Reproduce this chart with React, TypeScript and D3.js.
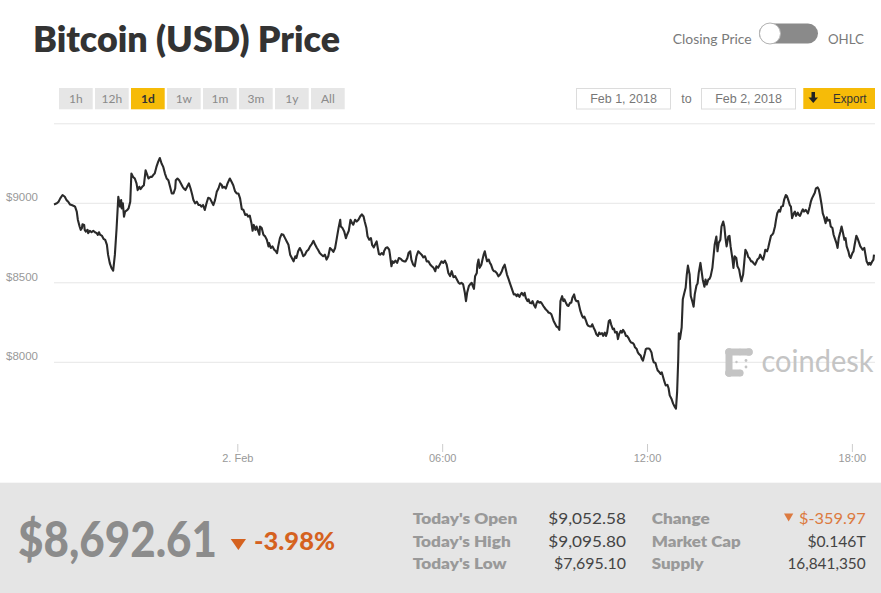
import React from 'react';
import * as d3 from 'd3';

// ---- data (minutes after Feb 1 2018 18:37, price USD) ----
const eveningFeb1: [number, number][] = [[0,8993],[5,9000],[8,9010],[11,9031],[15,9052],[19,9041],[22,9020],[25,9010],[28,8993],[31,8989],[35,8983],[37,8979],[40,8948],[42,8895],[45,8854],[47,8833],[49,8843],[50,8868],[53,8864],[54,8833],[56,8822],[59,8833],[60,8812],[63,8827],[66,8818],[69,8827],[72,8818],[75,8812],[77,8802],[79,8818],[81,8802],[84,8797],[87,8777],[90,8770],[93,8739],[95,8677],[98,8624],[101,8593],[104,8577],[107,8677],[110,8843],[113,9041],[116,8979],[118,9020],[119,8968],[121,9000],[123,8916],[125,8948],[129,8958],[131,8968],[134,9010],[136,9187],[139,9166],[142,9156],[145,9125],[147,9083],[150,9104],[152,9089],[155,9104],[158,9114],[161,9208],[164,9177],[166,9156],[169,9166],[172,9166],[175,9181],[177,9187],[180,9229],[183,9260],[186,9285],[189,9250],[192,9229],[195,9187],[198,9156],[201,9145],[204,9104],[207,9062],[210,9062],[213,9093],[214,9145],[217,9156],[220,9145],[223,9125],[226,9104],[228,9093],[231,9083],[234,9104],[237,9125],[240,9093],[243,9052],[245,9020],[248,9000],[251,9010],[254,8989],[257,8989],[259,8979],[262,8989],[265,8958],[268,9000],[271,9035],[274,9031],[277,9010],[280,8989],[283,9020],[286,9072],[289,9093],[292,9125],[295,9114],[296,9098],[299,9104],[302,9093],[305,9125],[309,9156],[312,9135],[315,9114],[318,9077],[321,9062],[324,9062],[327,9031],[330,8964],[333,8958],[336,8927],[339,8931],[341,8916],[344,8923],[347,8875],[349,8827],[351,8864],[354,8833],[356,8854],[359,8822],[361,8802]];
const nightFeb2: [number, number][] = [[362,8854],[365,8844],[368,8802],[371,8792],[374,8771],[377,8729],[378,8750],[381,8719],[384,8729],[387,8708],[390,8698],[392,8687],[394,8729],[397,8781],[400,8806],[403,8802],[406,8781],[409,8760],[412,8739],[415,8677],[418,8656],[421,8635],[424,8667],[426,8656],[429,8698],[432,8719],[435,8698],[438,8667],[441,8677],[444,8698],[447,8708],[450,8729],[453,8744],[456,8764],[459,8739],[462,8719],[464,8708],[467,8687],[470,8677],[473,8667],[476,8677],[479,8646],[482,8667],[485,8719],[488,8708],[491,8694],[494,8719],[497,8781],[500,8844],[503,8896],[504,8854],[507,8844],[510,8823],[513,8781],[515,8802],[518,8827],[521,8896],[524,8875],[526,8865],[529,8896],[532,8885],[535,8896],[538,8917],[541,8931],[544,8917],[546,8885],[549,8844],[551,8792],[554,8771],[557,8781],[559,8739],[562,8723],[564,8739],[567,8760],[569,8719],[571,8681],[573,8677],[576,8687],[579,8677],[580,8698],[583,8719],[586,8723],[589,8708],[590,8687],[593,8604],[595,8635],[597,8625],[600,8640],[603,8625],[606,8656],[609,8652],[612,8640],[615,8635],[618,8635],[621,8656],[623,8687],[626,8698],[628,8646],[631,8615],[634,8604],[637,8667],[640,8698],[643,8687],[646,8677],[649,8660],[652,8667],[655,8635],[658,8635],[661,8615],[664,8604],[667,8594],[670,8573],[672,8604],[675,8594],[678,8615],[681,8635],[684,8625],[687,8640],[690,8615],[693,8562],[696,8542],[699,8573],[702,8535],[705,8542],[708,8521],[711,8500],[713,8494],[716,8500],[719,8490]];
const morningFeb2: [number, number][] = [[722,8437],[724,8385],[726,8437],[729,8479],[731,8489],[734,8500],[736,8479],[738,8462],[740,8541],[743,8562],[744,8614],[746,8646],[748,8594],[751,8614],[753,8646],[755,8677],[757,8698],[759,8666],[761,8635],[764,8646],[766,8625],[768,8614],[771,8583],[773,8573],[775,8573],[778,8562],[781,8541],[784,8552],[787,8573],[789,8594],[792,8614],[794,8583],[796,8552],[799,8521],[801,8500],[803,8479],[806,8448],[808,8427],[811,8427],[813,8416],[815,8427],[818,8412],[820,8427],[822,8437],[825,8421],[827,8437],[829,8406],[832,8385],[834,8396],[836,8375],[839,8371],[841,8385],[843,8364],[846,8344],[848,8371],[850,8385],[853,8375],[855,8379],[857,8371],[860,8354],[862,8344],[864,8333],[867,8323],[869,8312],[871,8312],[874,8302],[876,8281],[878,8260],[881,8239],[883,8225],[886,8219],[888,8204],[890,8385],[893,8416],[895,8385],[897,8396],[900,8371],[902,8358],[904,8354],[907,8375],[909,8375],[911,8406],[914,8427],[916,8396],[918,8385],[921,8385],[923,8354],[925,8323],[928,8292],[930,8281],[932,8287],[935,8260],[937,8239],[939,8229],[942,8225],[944,8225],[946,8239],[949,8212],[951,8198],[953,8177],[956,8166],[958,8187],[960,8177],[963,8183],[965,8166],[968,8187],[970,8166],[972,8187],[975,8260],[977,8266],[979,8239],[982,8208],[984,8212],[986,8187],[989,8191],[991,8146],[993,8177],[996,8198],[998,8187],[1000,8204],[1003,8187],[1005,8166],[1007,8166],[1010,8150],[1012,8135],[1014,8125],[1017,8121],[1019,8114],[1021,8094],[1024,8083],[1026,8062],[1028,8052],[1031,8042],[1033,8021],[1035,8010],[1038,8052],[1040,8083],[1042,8087],[1045,8087],[1047,8083],[1050,8062],[1052,8021],[1054,8000],[1057,7996],[1059,7969],[1061,7948],[1064,7937],[1066,7927],[1068,7937],[1071,7900],[1073,7875],[1075,7854],[1078,7858],[1080,7837]];
const afternoonFeb2: [number, number][] = [[1082,7792],[1085,7771],[1088,7740],[1091,7719],[1093,7708],[1095,7812],[1097,8021],[1098,8183],[1100,8146],[1103,8219],[1105,8396],[1107,8427],[1110,8469],[1112,8552],[1114,8608],[1117,8552],[1119,8417],[1122,8379],[1124,8350],[1126,8427],[1129,8483],[1131,8496],[1133,8562],[1136,8625],[1138,8573],[1140,8521],[1143,8475],[1145,8521],[1147,8489],[1150,8521],[1152,8525],[1154,8542],[1157,8594],[1159,8667],[1161,8739],[1164,8791],[1166,8698],[1168,8750],[1171,8771],[1173,8854],[1176,8885],[1178,8854],[1180,8781],[1182,8729],[1185,8791],[1187,8796],[1189,8729],[1192,8656],[1194,8594],[1196,8667],[1199,8656],[1201,8604],[1204,8583],[1206,8542],[1208,8510],[1211,8552],[1213,8629],[1215,8708],[1218,8687],[1220,8662],[1222,8656],[1225,8635],[1227,8635],[1229,8625],[1232,8614],[1234,8629],[1236,8646],[1239,8656],[1241,8677],[1243,8662],[1246,8646],[1248,8671],[1250,8708],[1253,8698],[1255,8719],[1257,8750],[1260,8796],[1262,8802],[1264,8812],[1267,8854],[1269,8900],[1271,8937],[1274,8958],[1276,8948],[1278,8979],[1281,8983],[1283,9021],[1286,9052],[1288,9046],[1290,9025],[1293,8989],[1295,8979],[1297,8906],[1300,8937],[1302,8948],[1304,8921],[1307,8941],[1309,8927],[1311,8921],[1314,8948],[1316,8962],[1318,8948],[1321,8958],[1323,8948],[1325,8937],[1328,8979],[1330,9010],[1332,9031],[1335,9052],[1337,9066],[1339,9094],[1342,9100],[1344,9087],[1346,9052],[1349,8989],[1351,8937],[1353,8916],[1356,8875],[1358,8912],[1360,8891],[1363,8896],[1365,8854],[1368,8844],[1370,8802],[1372,8781],[1375,8750],[1377,8719],[1379,8781],[1382,8823],[1384,8854],[1386,8823],[1389,8771],[1391,8781],[1393,8729],[1396,8698],[1398,8667],[1400,8656],[1403,8687],[1405,8698],[1407,8739],[1410,8796],[1412,8781],[1414,8760],[1417,8729],[1419,8719],[1421,8708],[1424,8719],[1426,8677],[1428,8635],[1431,8614],[1433,8625],[1435,8614],[1438,8635],[1440,8646],[1441,8677]];

const yTickValues = [8000, 8500, 9000];
const yTopLine = 9500;
const xTickDates = [new Date(2018, 1, 2, 0, 0), new Date(2018, 1, 2, 6, 0), new Date(2018, 1, 2, 12, 0), new Date(2018, 1, 2, 18, 0)];
const xTickLabels = ['2. Feb', '06:00', '12:00', '18:00'];
const rangeButtons = ['1h', '12h', '1d', '1w', '1m', '3m', '1y', 'All'];
const activeRange = '1d';
const fromDate = 'Feb 1, 2018';
const toDate = 'Feb 2, 2018';
const currentPrice = '$8,692.61';
const changePct = '-3.98%';
const leftStatLabels = ["Today's Open", "Today's High", "Today's Low"];
const leftStatValues = ['$9,052.58', '$9,095.80', '$7,695.10'];
const rightStatLabels = ['Change', 'Market Cap', 'Supply'];
const rightStatValues = ['$-359.97', '$0.146T', '16,841,350'];

const START = new Date(2018, 1, 1, 18, 37);
const TOTAL_MIN = 1441;

const W = 881, H = 593;
const UI = 'Lato, "Open Sans", sans-serif';
const AX = '"Liberation Sans", Arial, sans-serif';

export default function App() {
  const series = [...eveningFeb1, ...nightFeb2, ...morningFeb2, ...afternoonFeb2].map(([m, p]) => ({
    t: new Date(START.getTime() + m * 60000),
    p,
  }));
  const x = d3.scaleTime()
    .domain([START, new Date(START.getTime() + TOTAL_MIN * 60000)])
    .range([54, 874]);
  const y = d3.scaleLinear().domain([8000, 9000]).range([362.3, 203.3]);
  const line = d3.line<{ t: Date; p: number }>().x(d => x(d.t)).y(d => y(d.p));

  const btnW = 33.7, btnStep = 36, btnX0 = 59;
  const leftLabelW = [104.6, 98, 94];
  const leftValW = [77.7, 77.7, 72];
  const rightLabelW = [58, 89, 52];
  const rightValW = [66.7, 58.3, 78.3];
  const rowY = [523.5, 546.5, 569];

  return (
    <div style={{ position: 'absolute', left: 0, top: 0, width: W, height: H, background: '#fff' }}>
      <svg width={W} height={H} style={{ display: 'block' }}>
        <rect x={0} y={0} width={W} height={H} fill="#fff" />
        {/* Title */}
        <text x={33} y={52} fontFamily={UI} fontWeight={800} fontSize={35} fill="#333" textLength={307} lengthAdjust="spacingAndGlyphs">Bitcoin (USD) Price</text>

        {/* toggle */}
        <text x={672.7} y={44} fontFamily={UI} fontSize={13.5} fill="#7a7a7a" textLength={79} lengthAdjust="spacingAndGlyphs">Closing Price</text>
        <rect x={759} y={23.5} width={59} height={20} rx={10} fill="#8a8a8a" />
        <circle cx={770} cy={33.5} r={10.5} fill="#fff" stroke="#b5b5b5" strokeWidth={1} />
        <text x={828} y={44} fontFamily={UI} fontSize={13.5} fill="#7a7a7a" textLength={36} lengthAdjust="spacingAndGlyphs">OHLC</text>

        {/* range buttons */}
        {rangeButtons.map((b, i) => {
          const bx = btnX0 + i * btnStep;
          const active = b === activeRange;
          return (
            <g key={b}>
              <rect x={bx} y={88} width={btnW} height={21.3} fill={active ? '#f6bb08' : '#e6e6e6'} />
              <text x={bx + btnW / 2} y={103} textAnchor="middle" fontFamily={UI} fontSize={12} fontWeight={active ? 700 : 400} fill={active ? '#333' : '#8a8a8a'}>{b}</text>
            </g>
          );
        })}

        {/* date range */}
        <rect x={576.5} y={88.5} width={94} height={20.5} fill="#fff" stroke="#dcdcdc" />
        <text x={623.5} y={103} textAnchor="middle" fontFamily={AX} fontSize={12.5} fill="#777">{fromDate}</text>
        <text x={686.5} y={103} textAnchor="middle" fontFamily={AX} fontSize={12.5} fill="#777">to</text>
        <rect x={701.5} y={88.5} width={94} height={20.5} fill="#fff" stroke="#dcdcdc" />
        <text x={748.5} y={103} textAnchor="middle" fontFamily={AX} fontSize={12.5} fill="#777">{toDate}</text>
        <rect x={803.3} y={88} width={71.7} height={21} fill="#f6bb08" />
        <rect x={811.5} y={92} width={3.5} height={6} fill="#222" />
        <path d="M808.5,97.5 L818,97.5 L813.25,103 Z" fill="#222" />
        <text x={833} y={102.5} fontFamily={AX} fontSize={12} fill="#333" textLength={33.5} lengthAdjust="spacingAndGlyphs">Export</text>

        {/* grid */}
        <line x1={54} x2={875} y1={y(yTopLine)} y2={y(yTopLine)} stroke="#e6e6e6" strokeWidth={1} />
        {yTickValues.map(v => (
          <g key={v}>
            <line x1={54} x2={875} y1={y(v)} y2={y(v)} stroke="#e6e6e6" strokeWidth={1} />
            <text x={6} y={y(v) - 2} fontFamily={AX} fontSize={11} fill="#999" textLength={32} lengthAdjust="spacingAndGlyphs">${v}</text>
          </g>
        ))}

        {/* watermark */}
        <g fill="#c4c4c4">
          <rect x={725.5} y={348.5} width={27} height={7} rx={3.5} />
          <circle cx={729} cy={352} r={3.8} />
          <circle cx={740} cy={352} r={3.3} />
          <circle cx={749} cy={352} r={3.8} />
          <rect x={725.5} y={348.5} width={7} height={28} rx={3.5} />
          <circle cx={729} cy={373} r={3.8} />
          <rect x={725.5} y={369.5} width={18} height={7} rx={3.5} />
          <circle cx={740} cy={373} r={3.3} />
          <circle cx={746} cy={360.5} r={1.4} />
          <circle cx={746} cy={367} r={1.4} />
          <circle cx={736.5} cy={362} r={1.2} />
        </g>
        <text x={761.5} y={372} fontFamily={UI} fontSize={31} fill="#c4c4c4" textLength={112} lengthAdjust="spacingAndGlyphs">coindesk</text>

        {/* price line */}
        <path d={line(series) || ''} fill="none" stroke="#2a2a2a" strokeWidth={2.1} strokeLinejoin="round" />

        {/* x axis ticks */}
        {xTickDates.map((d, i) => (
          <g key={i}>
            <line x1={x(d)} x2={x(d)} y1={444} y2={452} stroke="#ccc" strokeWidth={1} />
            <text x={x(d)} y={461.5} textAnchor="middle" fontFamily={AX} fontSize={11} fill="#999">{xTickLabels[i]}</text>
          </g>
        ))}

        {/* footer */}
        <rect x={0} y={482.7} width={W} height={H - 482.7} fill="#e5e5e5" />
        <text x={18} y={557.3} fontFamily={UI} fontWeight={900} fontSize={49} fill="#8c8c8c" textLength={199} lengthAdjust="spacingAndGlyphs">{currentPrice}</text>
        <path d="M230.7,539 L246,539 L238.35,550 Z" fill="#d5621f" />
        <text x={254} y={550} fontFamily={UI} fontWeight={900} fontSize={24} fill="#d5621f" textLength={81} lengthAdjust="spacingAndGlyphs">{changePct}</text>

        {leftStatLabels.map((l, i) => (
          <g key={l}>
            <text x={412.7} y={rowY[i]} fontFamily={UI} fontWeight={800} fontSize={15} fill="#999" textLength={leftLabelW[i]} lengthAdjust="spacingAndGlyphs">{l}</text>
            <text x={626} y={rowY[i]} textAnchor="end" fontFamily={UI} fontSize={15} fill="#444" textLength={leftValW[i]} lengthAdjust="spacingAndGlyphs">{leftStatValues[i]}</text>
          </g>
        ))}
        {rightStatLabels.map((l, i) => (
          <g key={l}>
            <text x={651.7} y={rowY[i]} fontFamily={UI} fontWeight={800} fontSize={15} fill="#999" textLength={rightLabelW[i]} lengthAdjust="spacingAndGlyphs">{l}</text>
            <text x={865.7} y={rowY[i]} textAnchor="end" fontFamily={UI} fontSize={15} fill={i === 0 ? '#dc7a40' : '#444'} textLength={rightValW[i]} lengthAdjust="spacingAndGlyphs">{rightStatValues[i]}</text>
          </g>
        ))}
        <path d="M784,513.5 L793.3,513.5 L788.65,521.5 Z" fill="#dc7a40" />
      </svg>
    </div>
  );
}
